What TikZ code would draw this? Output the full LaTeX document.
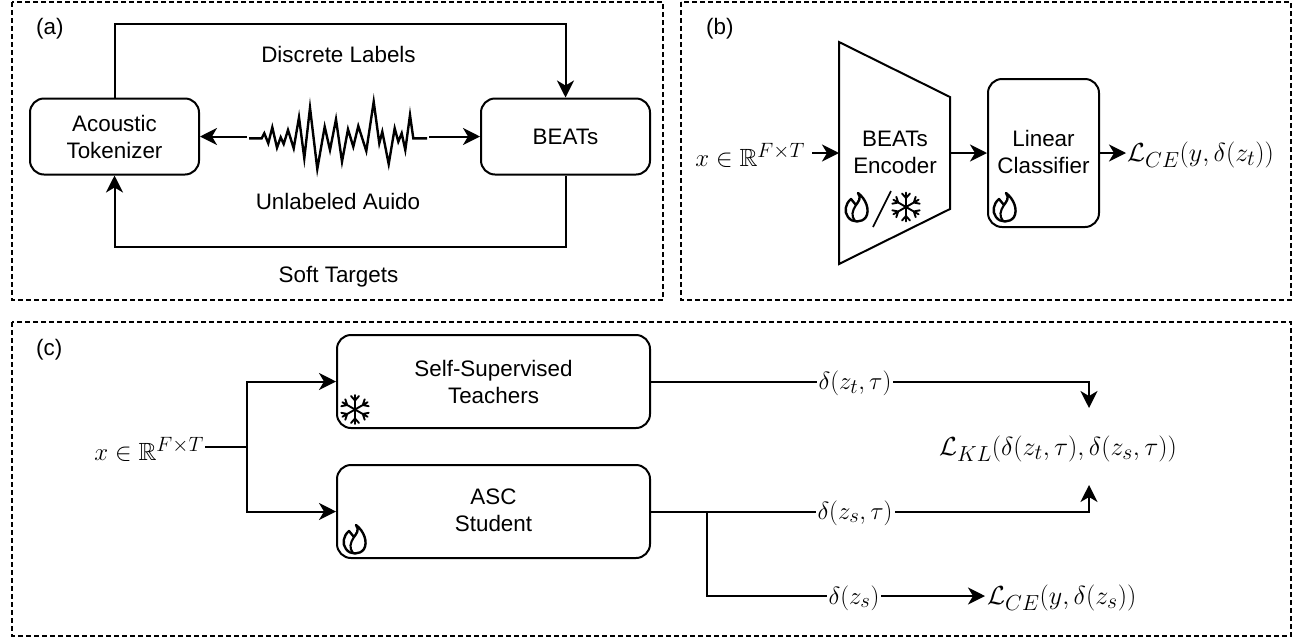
\documentclass[tikz,border=0pt]{standalone}
\usepackage{amsmath,amssymb,graphicx}
\usepackage{fontspec}
\setmainfont{Liberation Sans}
\usetikzlibrary{arrows.meta}
\newcommand{\lossbox}[1]{\scalebox{1.05}{$#1$}}
\newcommand{\flameicon}[2]{%
\begin{scope}[shift={(#1,#2)}]
\draw[line width=2.4pt,line join=round,line cap=round]
 (1,-15) .. controls (5,-10) and (1,-6) .. (-1,-3)
 .. controls (-3,-5) and (-4,-7) .. (-6,-9)
 .. controls (-12,-4) and (-13,4) .. (-9,9)
 .. controls (-5,15) and (5,15) .. (9,9)
 .. controls (13,2) and (9,-9) .. (1,-15) -- cycle;
\draw[line width=2.1pt,line cap=round]
 (-2,13) .. controls (-6,8) and (-5,3) .. (-1,-3);
\end{scope}}
\newcommand{\snowicon}[2]{%
\begin{scope}[shift={(#1,#2)}]
\foreach \a in {30,90,150,210,270,330}{
\begin{scope}[rotate=\a]
\draw[line width=1.9pt,line cap=round] (0,0) -- (14.5,0) (9,0) -- (13.5,4) (9,0) -- (13.5,-4);
\end{scope}}
\end{scope}}
\tikzset{
 x=1pt,y=-1pt,
 every node/.style={font=\fontsize{22.4}{27}\selectfont},
 panel/.style={draw,line width=1.4pt,dash pattern=on 5pt off 3pt},
 roundbox/.style={draw,line width=2pt,rounded corners=14pt,align=center,inner sep=0pt,minimum width=#1},
 lbl/.style={inner sep=1pt,align=center},
 mth/.style={inner sep=1pt,font=\fontsize{24.88}{30}\selectfont},
 linelbl/.style={inner sep=2pt,fill=white,font=\fontsize{24.88}{30}\selectfont},
 conn/.style={draw,line width=2pt,-{Stealth[length=17pt,width=17pt,inset=5pt]}},
 plainconn/.style={draw,line width=2pt},
}
\begin{document}
\begin{tikzpicture}
\useasboundingbox (0,0) rectangle (1301,638);
\path[panel] (12,2) rectangle (663,300);
\path[panel] (681,2) rectangle (1291,300);
\path[panel] (12,322) rectangle (1291,636);
\node[lbl,anchor=west] (la) at (35,29) {(a)};
\node[lbl,anchor=west] (lb) at (705,29) {(b)};
\node[lbl,anchor=west] (lc) at (35,350) {(c)};
% (a)
\node[roundbox=169pt,minimum height=76pt] (tok) at (114.5,136.5) {Acoustic\\Tokenizer};
\node[roundbox=169pt,minimum height=76pt] (beats) at (565.5,136.5) {BEATs};
\coordinate (wl) at (247,136.5);
\coordinate (wr) at (429,136.5);
\draw[line width=2.4pt,line join=miter] (249,138.3) -- (261.7,138.3) -- (264.3,133.3) -- (268.3,143.3) -- (272.3,127.3) -- (277,147.7) -- (280.7,137.3) -- (283.7,144) -- (288,130) -- (293.7,148.3) -- (299,117.3) -- (304.3,158.3) -- (310,107.7) -- (317.3,169) -- (324.7,126.7) -- (330,150) -- (336,119.3) -- (342,161.7) -- (348,129.3) -- (353.3,146.7) -- (358.3,126) -- (366.3,151) -- (373.7,101.7) -- (379.3,143.3) -- (382.3,131.7) -- (388.7,164) -- (394.7,128.3) -- (398.3,141.7) -- (401.7,133.3) -- (405.3,150) -- (410,115) -- (413.3,138.3) -- (427,138.3);
\draw[conn] (wl) -- (tok.east);
\draw[conn] (wr) -- (beats.west);
\coordinate (topL) at (tok.north |- 0,24);
\coordinate (topR) at (beats.north |- 0,24);
\coordinate (botL) at (tok.south |- 0,247);
\coordinate (botR) at (beats.south |- 0,247);
\draw[conn] (tok.north) -- (topL) -- (topR) -- (beats.north);
\draw[conn] (beats.south) -- (botR) -- (botL) -- (tok.south);
\node[lbl] (dl) at (338.5,54) {Discrete Labels};
\node[lbl] (ua) at (338,201) {Unlabeled Auido};
\node[lbl] (st) at (338.5,277) {Soft Targets};
% (b)
\node[mth,anchor=east] (xb) at (806,155) {$x\in\mathbb{R}^{F\times T}$};
\coordinate (xbout) at (812,153);
\coordinate (encW) at (839,153);
\coordinate (encE) at (950,153);
\draw[line width=2pt,line join=miter] (839,42) -- (950,97) -- (950,209) -- (839,264) -- cycle;
\node[lbl] (enc) at (895,152) {BEATs\\Encoder};
\flameicon{857}{208}
\draw[line width=1.6pt] (891,191) -- (873,227);
\snowicon{906}{207}
\node[roundbox=111pt,minimum height=148pt] (cls) at (1043.5,153) {};
\node[lbl] at (1043.5,152) {Linear\\Classifier};
\flameicon{1005}{208}
\node[mth,anchor=west] (lce) at (1126,155) {\lossbox{\mathcal{L}_{CE}(y,\delta(z_t))}};
\draw[conn] (xbout) -- (encW);
\draw[conn] (encE) -- (cls.west);
\draw[conn] (cls.east) -- (lce.west |- cls.east);
% (c)
\node[mth,anchor=east] (xc) at (205,449) {$x\in\mathbb{R}^{F\times T}$};
\node[roundbox=313pt,minimum height=93pt] (tea) at (493.5,381.5) {};
\node[lbl] at (493.5,382) {Self-Supervised\\Teachers};
\node[roundbox=313pt,minimum height=93pt] (stu) at (493.5,511.5) {};
\node[lbl] at (493.5,510.5) {ASC\\Student};
\snowicon{355}{409.5}
\flameicon{355}{540}
\coordinate (jn) at (247,447);
\draw[plainconn] (xc.east |- jn) -- (jn);
\draw[conn] (jn) |- (tea.west);
\draw[conn] (jn) |- (stu.west);
\node[mth] (lkl) at (1058,449) {\lossbox{\mathcal{L}_{KL}(\delta(z_t,\tau),\delta(z_s,\tau))}};
\coordinate (up) at (1089,408);
\coordinate (dn) at (1089,485);
\draw[conn] (tea.east) -- (1089,381.5) -- (up);
\draw[conn] (stu.east) -- (1089,511.5) -- (dn);
\node[linelbl] (d1) at (855,383) {$\delta(z_t,\tau)$};
\node[linelbl] (d2) at (855,513) {$\delta(z_s,\tau)$};
\coordinate (br) at (707,511.5);
\coordinate (brend) at (985,596);
\node[mth,anchor=west] (lce2) at (986,598) {\lossbox{\mathcal{L}_{CE}(y,\delta(z_s))}};
\draw[conn] (br) |- (brend);
\node[linelbl] (d3) at (854,598) {$\delta(z_s)$};
\end{tikzpicture}
\end{document}
